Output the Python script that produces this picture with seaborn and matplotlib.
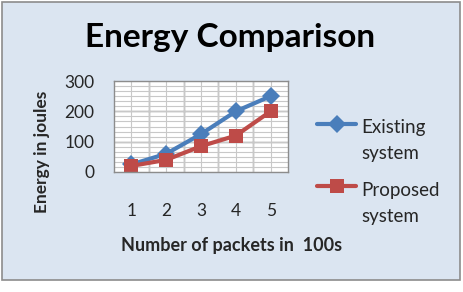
import numpy as np
import matplotlib.pyplot as plt
import pandas as pd
import seaborn as sns
from matplotlib.patches import Rectangle
from matplotlib.ticker import MultipleLocator
from matplotlib.legend_handler import HandlerLine2D

packets = [1, 2, 3, 4, 5]
existing = [25, 60, 125, 200, 250]
proposed = [20, 40, 85, 120, 200]
series_names = ["Existing\nsystem", "Proposed\nsystem"]

df = pd.DataFrame({
    "packets": packets * 2,
    "energy": existing + proposed,
    "series": [series_names[0]] * 5 + [series_names[1]] * 5,
})


# legend handle sits next to the first line of the label, like Excel does
class TopLineHandler(HandlerLine2D):
    def create_artists(self, *args, **kwargs):
        arts = super().create_artists(*args, **kwargs)
        for a in arts:
            a.set_ydata(np.asarray(a.get_ydata()) + 12.5)
        return arts


sns.set_style("white")
plt.rcParams['font.family'] = ['Lato', 'DejaVu Sans']

fig = plt.figure(figsize=(4.64, 2.92), dpi=100, facecolor="white")
# light blue chart background with grey border
fig.patches.append(Rectangle((2 / 464, 1 - 280 / 292), 458 / 464, 278 / 292,
                             transform=fig.transFigure, facecolor="#dbe5f1",
                             edgecolor="#8c8c8c", linewidth=1.2, zorder=-5))

ax = fig.add_axes([114 / 464, 1 - 172 / 292, 174 / 464, 91 / 292])
ax.set_facecolor("white")

sns.lineplot(data=df, x="packets", y="energy", hue="series", style="series",
             markers={series_names[0]: "D", series_names[1]: "s"}, dashes=False,
             palette={series_names[0]: "#4a7ebb", series_names[1]: "#be4b48"},
             linewidth=3, markersize=9.5, markeredgewidth=0, ax=ax)

ax.set_xlim(0.5, 5.5)
ax.set_ylim(0, 300)
ax.xaxis.set_major_locator(MultipleLocator(1))
ax.yaxis.set_major_locator(MultipleLocator(100))
ax.yaxis.set_minor_locator(MultipleLocator(100 / 6))
ax.set_xticks([1.5, 2.5, 3.5, 4.5], minor=True)

ax.grid(True, which="minor", color="#c8c8c8", linewidth=0.8)
ax.grid(True, which="major", color="#c8c8c8", linewidth=0.8)
for yb in [100, 200]:
    ax.axhline(yb, color="#8c8c8c", linewidth=1.0, zorder=0.5)
for xb in [1.5, 2.5, 3.5, 4.5]:
    ax.axvline(xb, color="#8c8c8c", linewidth=1.0, zorder=0.5)
ax.set_axisbelow(True)
for s in ax.spines.values():
    s.set_color("#8c8c8c")
    s.set_linewidth(1.0)

ax.set_yticks([0, 100, 200, 300])
ax.set_yticklabels(["0", "100", "200", "300"])
ax.tick_params(which="both", length=0, labelsize=12.5)
ax.tick_params(axis="y", pad=14)
ax.tick_params(axis="x", pad=22)

ax.set_xlabel("Number of packets in  100s", fontsize=13, fontweight="bold")
ax.set_ylabel("Energy in joules", fontsize=12.5, fontweight="bold")
ax.xaxis.set_label_coords((232 - 114) / 174, (172 - 245) / 91)
ax.yaxis.set_label_coords((42 - 114) / 174, (172 - 152) / 91)
ax.xaxis.label.set_va("center")
ax.yaxis.label.set_va("center")

fig.text(230 / 464, 1 - 37 / 292, "Energy Comparison", ha="center", va="center",
         fontsize=24, fontweight="bold", color="black")

handles, labels = ax.get_legend_handles_labels()
leg = ax.legend(handles, labels, loc="upper left",
                bbox_to_anchor=(317 / 464, 1 - 119 / 292),
                bbox_transform=fig.transFigure, frameon=False,
                fontsize=13.5, handlelength=2.1, handletextpad=0.25,
                labelspacing=1.05, borderpad=0, borderaxespad=0,
                handler_map={h: TopLineHandler() for h in handles})
for t in leg.get_texts():
    t.set_linespacing(1.65)

fig.savefig("out.png", dpi=100, facecolor="white")
